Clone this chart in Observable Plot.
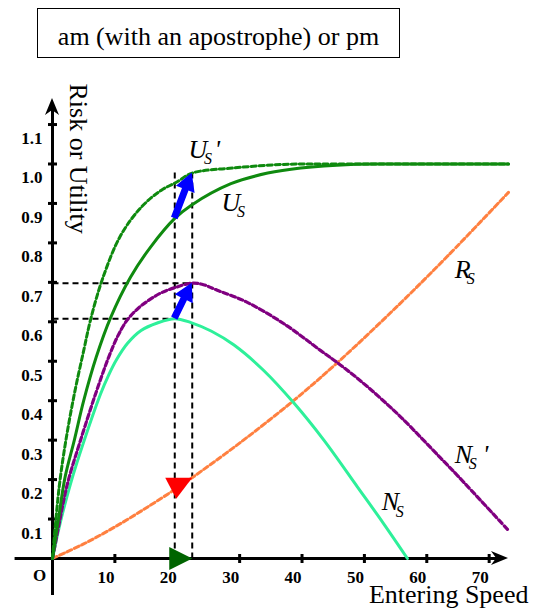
<!DOCTYPE html>
<html>
<head>
<meta charset="utf-8">
<script src="https://cdn.jsdelivr.net/npm/d3@7"></script>
<script src="https://cdn.jsdelivr.net/npm/@observablehq/plot@0.6"></script>
<style>
  body { margin: 0; background: #fff; }
  #wrap { position: relative; width: 535px; height: 612px; }
  #chart { position: absolute; left: 0; top: 0; }
  #title {
    position: absolute; left: 37px; top: 8px; width: 363px; height: 50px;
    box-sizing: border-box; border: 1.5px solid #000;
    font: 26px "Liberation Serif", "Times New Roman", serif;
    text-align: center; padding-top: 8px; line-height: 39px; white-space: nowrap;
  }
</style>
</head>
<body>
<div id="wrap">
  <div id="chart"></div>
  <div id="title">am (with an apostrophe) or pm</div>
</div>
<script>
// ---- curves: entering speed (x) against risk / utility (y) ----
const usX = [0, 1, 2, 3.5, 5, 7, 9.3, 12.5, 15.75, 19.6, 22.2, 28.6, 34.5, 39.8, 47.8, 55, 65, 73.1];
const usY = [0, 0.105, 0.205, 0.30, 0.40, 0.51, 0.61, 0.713, 0.79, 0.862, 0.895, 0.95, 0.977, 0.99, 0.999, 1.0, 1.0, 1.0];

const usPrimeX = [0, 1.06, 2.1, 3.5, 5.0, 6.1, 8.0, 10.9, 14.2, 17.4, 20.0, 22.4, 29.1, 37.1, 45, 55, 73.1];
const usPrimeY = [0, 0.18, 0.295, 0.417, 0.527, 0.605, 0.708, 0.818, 0.89, 0.933, 0.955, 0.977, 0.99, 0.999, 1.0, 1.0, 1.0];

const nsX = [0, 1.2, 2.9, 5.1, 7.7, 9.0, 10.3, 12.0, 14.2, 16.8, 19.6, 22.2, 25.5, 29.1, 33.9, 38.7, 43.5, 48.9, 53.1, 56.9];
const nsY = [0, 0.088, 0.19, 0.30, 0.417, 0.465, 0.505, 0.545, 0.578, 0.597, 0.608, 0.598, 0.576, 0.541, 0.476, 0.394, 0.300, 0.181, 0.088, 0.0];

const nsPrimeX = [0, 1.06, 2.4, 4.5, 6.9, 9.0, 10.5, 12.0, 13.8, 15.75, 17.5, 19.5, 22.4, 24.2, 26.4, 31.0, 37.1, 43.0, 46.2, 49.4, 52.6, 56.0, 62.2, 65, 73.1];
const nsPrimeY = [0, 0.088, 0.19, 0.30, 0.417, 0.51, 0.565, 0.605, 0.635, 0.658, 0.674, 0.686, 0.698, 0.694, 0.68, 0.651, 0.595, 0.527, 0.49, 0.45, 0.406, 0.356, 0.255, 0.209, 0.071];

const rsX = [0, 5, 10, 15, 20, 22.4, 30.2, 38.7, 46.2, 55.5, 63.3, 73.1];
const rsY = [0, 0.037, 0.08, 0.128, 0.179, 0.205, 0.295, 0.401, 0.504, 0.643, 0.766, 0.928];

// ---- the speed shift and what it moves ----
const speedBefore = 19.6;
const speedAfter = 22.4;
const usBefore = 0.862, usPrimeAfter = 0.977;
const nsPeak = 0.608, nsPrimePeak = 0.698;
const rsAfter = 0.205;
const guideTop = 0.979;

// ---- axes ----
const xTicks = [10, 20, 30, 40, 50, 60, 70];
const yTicks = [0.1, 0.2, 0.3, 0.4, 0.5, 0.6, 0.7, 0.8, 0.9, 1.0, 1.1];
const xAxisExtent = [-6, 73.1];
const yAxisExtent = [-0.094, 1.166];

// ---- curve labels ----
const labelMain = ["U", "U", "R", "N", "N"];
const labelPrime = [true, false, false, true, false];
const labelX = [21.8, 27.1, 64.5, 64.5, 52.8];
const labelY = [1.016, 0.882, 0.712, 0.243, 0.122];

const rows = (xs, ys) => xs.map((x, i) => ({x, y: ys[i]}));

const serif = "Liberation Serif, Times New Roman, serif";
const green = "#0f8a0f", spring = "#2ef09a", purple = "#800080", orange = "#ff8040";

// custom pixel-sized symbols
const vbar = {draw(c) { c.moveTo(0, -4.5); c.lineTo(0, 4.5); }};
const hbar = {draw(c) { c.moveTo(-4.5, 0); c.lineTo(4.5, 0); }};
// right-pointing triangle, tip at the anchor
const triRight = {draw(c) { c.moveTo(0, 0); c.lineTo(-23, -11.5); c.lineTo(-23, 11.5); c.closePath(); }};
// down-pointing triangle, top-right corner at the anchor
const triDown = {draw(c) { c.moveTo(0, 0); c.lineTo(-27, 0); c.lineTo(-16, 21); c.closePath(); }};

// offsets of the subscript S and of the prime after each main letter
const subDx = {U: 15.5, R: 12, N: 14};
const primeDx = {U: 26, N: 28};
const labels = labelMain.map((m, i) => ({m, x: labelX[i], y: labelY[i], prime: labelPrime[i]}));

const labelMarks = labels.flatMap(l => {
  const base = {x: "x", y: "y", textAnchor: "start", lineAnchor: "bottom", fontStyle: "italic", fontFamily: serif};
  const marks = [
    Plot.text([l], {...base, text: "m", fontSize: 26}),
    Plot.text([l], {...base, text: () => "S", dx: subDx[l.m], dy: 6.5, fontSize: 16})
  ];
  if (l.prime) marks.push(Plot.text([l], {...base, text: () => "'", dx: primeDx[l.m], fontSize: 26}));
  return marks;
});

function blockArrow(x1, y1, x2, y2, w, hw, hl) {
  const len = Math.hypot(x2 - x1, y2 - y1);
  const ux = (x2 - x1) / len, uy = (y2 - y1) / len;
  const nx = -uy, ny = ux;
  const bx = x2 - ux * hl, by = y2 - uy * hl;
  const p = [
    [x1 + nx * w / 2, y1 + ny * w / 2],
    [bx + nx * w / 2, by + ny * w / 2],
    [bx + nx * hw / 2, by + ny * hw / 2],
    [x2, y2],
    [bx - nx * hw / 2, by - ny * hw / 2],
    [bx - nx * w / 2, by - ny * w / 2],
    [x1 - nx * w / 2, y1 - ny * w / 2]
  ];
  return "M" + p.map(d => d.join(",")).join("L") + "Z";
}

function axisHead(tx, ty, ux, uy, len, half) {
  const nx = -uy, ny = ux;
  const bx = tx - ux * len, by = ty - uy * len;
  const notchX = tx - ux * len * 0.7, notchY = ty - uy * len * 0.7;
  return `M${tx},${ty}L${bx + nx * half},${by + ny * half}L${notchX},${notchY}L${bx - nx * half},${by - ny * half}Z`;
}

// blue shift arrows and the axis arrowheads, positioned through the plot scales
function arrows(index, scales) {
  const x = scales.x, y = scales.y;
  const g = d3.create("svg:g");
  const shifts = [[speedBefore, usBefore, speedAfter, usPrimeAfter], [speedBefore, nsPeak, speedAfter, nsPrimePeak]];
  for (const [a, b, c, d] of shifts) {
    g.append("path").attr("d", blockArrow(x(a), y(b), x(c), y(d), 7, 20, 18)).attr("fill", "#0000ff");
  }
  g.append("path").attr("d", axisHead(x(xAxisExtent[1]), y(0), 1, 0, 17, 7)).attr("fill", "#000");
  g.append("path").attr("d", axisHead(x(0), y(yAxisExtent[1]), 0, -1, 17, 7)).attr("fill", "#000");
  return g.node();
}

const curve = "catmull-rom";

const chart = Plot.plot({
  width: 535,
  height: 612,
  marginLeft: 52,
  marginRight: 27,
  marginTop: 98,
  marginBottom: 54,
  x: {domain: [0, 73.1], axis: null},
  y: {domain: [0, 1.166], axis: null},
  style: {background: "transparent", fontFamily: serif},
  marks: [
    // axis lines
    Plot.ruleY([0], {x1: xAxisExtent[0], x2: xAxisExtent[1] - 1.5, stroke: "#000", strokeWidth: 3}),
    Plot.ruleX([0], {y1: yAxisExtent[0], y2: yAxisExtent[1] - 0.03, stroke: "#000", strokeWidth: 3}),
    Plot.dot(xTicks, {x: d => d, y: 0, symbol: vbar, fill: "none", stroke: "#000", strokeWidth: 3}),
    Plot.dot(yTicks, {x: 0, y: d => d, symbol: hbar, fill: "none", stroke: "#000", strokeWidth: 3}),
    Plot.text(xTicks, {x: d => d, y: 0, text: d => String(d), dx: -9, dy: 19, fontWeight: "bold", fontSize: 17, fontFamily: serif}),
    Plot.text(yTicks, {x: 0, y: d => d, text: d => d.toFixed(1), textAnchor: "end", dx: -10, dy: 14, fontWeight: "bold", fontSize: 17, fontFamily: serif}),
    Plot.text(["O"], {x: 0, y: 0, text: d => d, dx: -13, dy: 17, fontWeight: "bold", fontSize: 17, fontFamily: serif}),

    // dashed guides
    Plot.link([
      {x1: 0, y1: nsPrimePeak, x2: speedAfter, y2: nsPrimePeak},
      {x1: 0, y1: nsPeak, x2: speedBefore, y2: nsPeak},
      {x1: speedBefore, y1: 0, x2: speedBefore, y2: guideTop},
      {x1: speedAfter, y1: 0, x2: speedAfter, y2: guideTop}
    ], {x1: "x1", y1: "y1", x2: "x2", y2: "y2", stroke: "#000", strokeWidth: 2, strokeDasharray: "6,4"}),

    // curves
    Plot.line(rows(rsX, rsY), {x: "x", y: "y", stroke: orange, strokeWidth: 3, strokeDasharray: "5,3", curve}),
    Plot.line(rows(nsX, nsY), {x: "x", y: "y", stroke: spring, strokeWidth: 3, curve}),
    Plot.line(rows(nsPrimeX, nsPrimeY), {x: "x", y: "y", stroke: purple, strokeWidth: 3.2, strokeDasharray: "5,3", curve}),
    Plot.line(rows(usX, usY), {x: "x", y: "y", stroke: green, strokeWidth: 3, curve}),
    Plot.line(rows(usPrimeX, usPrimeY), {x: "x", y: "y", stroke: green, strokeWidth: 3, strokeDasharray: "5,3", curve}),

    // markers on the speed axis and the risk curve
    Plot.dot([speedAfter], {x: d => d, y: 0, symbol: triRight, fill: "#006400", stroke: "none"}),
    Plot.dot([speedAfter], {x: d => d, y: rsAfter, symbol: triDown, fill: "#ff0000", stroke: "none"}),

    arrows,

    // curve labels
    ...labelMarks,

    // axis titles
    Plot.text(["Entering Speed"], {x: 76.3, y: -0.114, text: d => d, textAnchor: "end", lineAnchor: "bottom", fontSize: 26, fontFamily: serif}),
    Plot.text(["Risk or Utility"], {x: 4.2, y: 1.204, text: d => d, rotate: 90, textAnchor: "start", lineAnchor: "middle", fontSize: 26, fontFamily: serif})
  ]
});

document.getElementById("chart").appendChild(chart);
</script>
</body>
</html>
